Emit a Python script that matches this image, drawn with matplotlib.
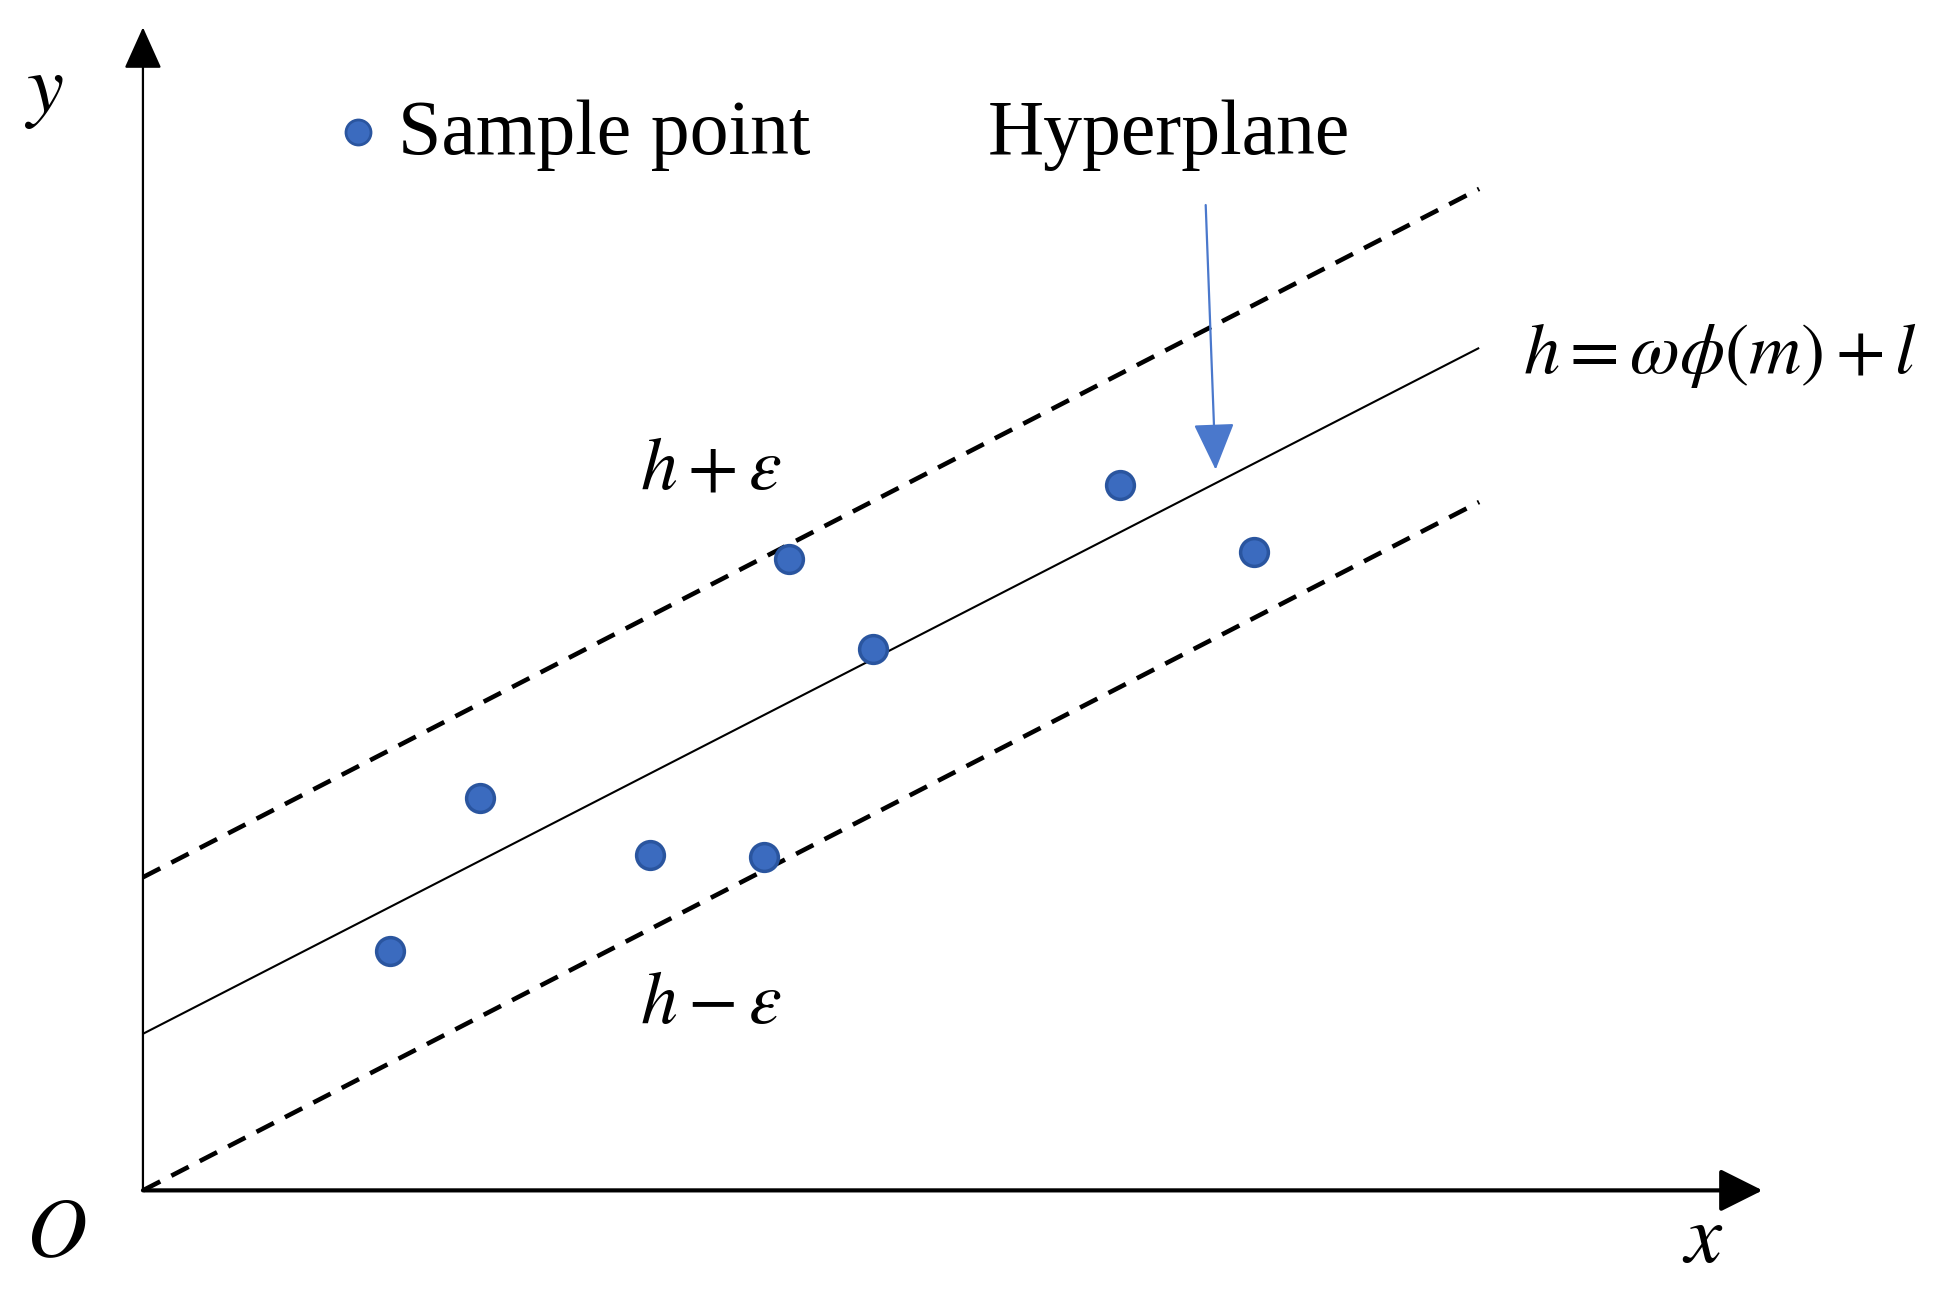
import numpy as np
import matplotlib.pyplot as plt

plt.rcParams['mathtext.fontset'] = 'stix'
plt.rcParams['font.family'] = ['Liberation Serif', 'DejaVu Serif']

# sample points (x, y)
sample_x = [1.99, 2.71, 4.08, 5.00, 5.20, 5.87, 7.86, 8.94]
sample_y = [1.93, 3.16, 2.70, 2.68, 5.08, 4.36, 5.68, 5.14]

# hyperplane and the two epsilon bands
line_x = [0.0, 10.75]
hyper_y = [1.26, 6.78]
upper_y = [2.52, 8.06]
lower_y = [0.0, 5.54]

x_axis_end = 13.03
y_axis_end = 9.36

dot_color = '#3B6BBF'
dot_edge = '#2A559F'
arrow_blue = '#4A78CC'

fig = plt.figure(figsize=(19.49, 12.96), dpi=100)
ax = fig.add_axes([0, 0, 1, 1])
ax.set_xlim(-1.15, 14.53)
ax.set_ylim(-0.85, 9.58)
ax.axis('off')

# axes with arrows
ax.annotate('', xy=(0, y_axis_end), xytext=(0, 0),
            arrowprops=dict(arrowstyle='-|>,head_length=0.4,head_width=0.18',
                            mutation_scale=66, lw=1.6, color='black',
                            shrinkA=0, shrinkB=0))
ax.annotate('', xy=(x_axis_end, 0), xytext=(0, 0),
            arrowprops=dict(arrowstyle='-|>,head_length=0.4,head_width=0.2',
                            mutation_scale=66, lw=3.0, color='black',
                            shrinkA=0, shrinkB=0))

# lines
ax.plot(line_x, hyper_y, color='black', lw=1.5, solid_capstyle='butt')
dash = (0, (14 / 3.3, 9 / 3.3))
ax.plot(line_x, upper_y, color='black', lw=3.3, linestyle=dash)
ax.plot(line_x, lower_y, color='black', lw=3.3, linestyle=dash)

# points
ax.plot(sample_x, sample_y, 'o', ms=20, color=dot_color, mec=dot_edge, mew=2.5)

# legend
ax.plot([1.73], [8.52], 'o', ms=18, color=dot_color, mec=dot_edge, mew=2)
ax.text(2.05, 8.34, 'Sample point', fontsize=56, va='baseline', ha='left')

# hyperplane label and arrow
ax.text(6.80, 8.34, 'Hyperplane', fontsize=56, va='baseline', ha='left')
ax.annotate('', xy=(8.63, 5.80), xytext=(8.55, 7.93),
            arrowprops=dict(arrowstyle='-|>,head_length=0.8,head_width=0.35',
                            mutation_scale=37, lw=1.6, color=arrow_blue,
                            shrinkA=0, shrinkB=0))

# math labels
ax.text(4.0, 5.65, r'$h+\varepsilon$', fontsize=53, va='baseline', ha='left')
ax.text(4.0, 1.35, r'$h-\varepsilon$', fontsize=53, va='baseline', ha='left')
ax.text(11.10, 6.58, r'$h=\omega\phi\left(m\right)+l$', fontsize=52,
        va='baseline', ha='left')

ax.text(-0.80, 8.83, r'$y$', fontsize=60, va='center', ha='center')
ax.text(-0.70, -0.37, r'$O$', fontsize=60, va='center', ha='center')
ax.text(12.55, -0.42, r'$x$', fontsize=60, va='center', ha='center')

fig.savefig('out.png', dpi=100)
